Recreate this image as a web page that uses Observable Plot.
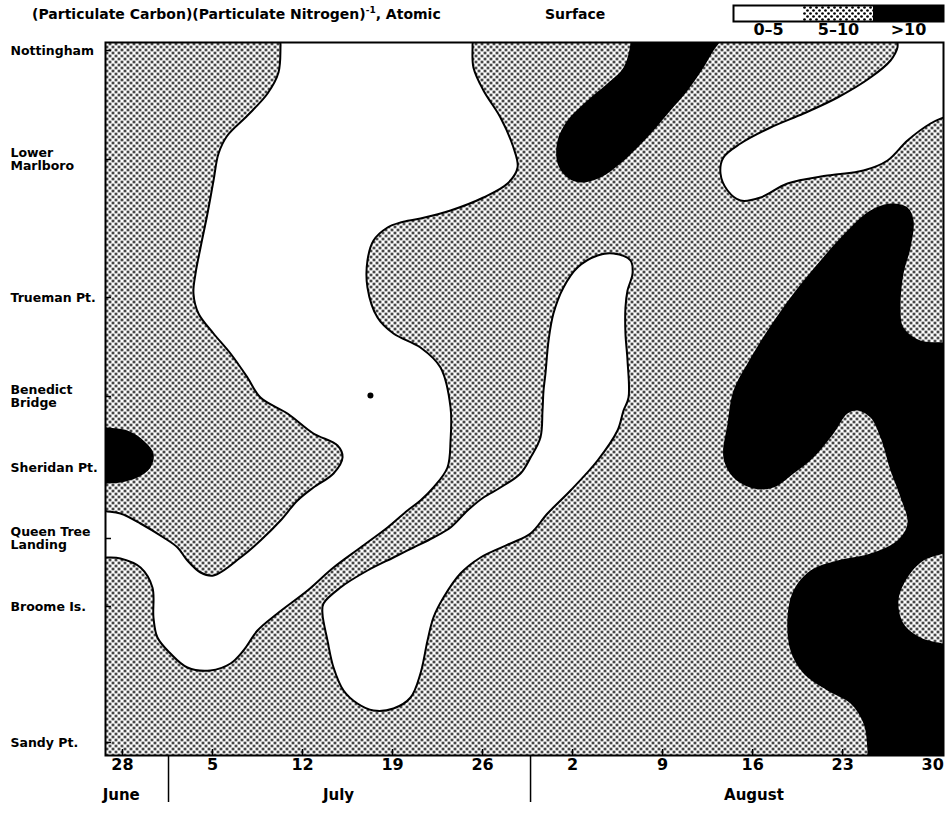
<!DOCTYPE html>
<html><head><meta charset="utf-8">
<script src="https://cdn.jsdelivr.net/npm/d3@7"></script>
<script src="https://cdn.jsdelivr.net/npm/@observablehq/plot@0.6"></script>
<style>
body{margin:0;background:#fff;}
#wrap{position:relative;width:945px;height:813px;font-family:"DejaVu Sans",sans-serif;color:#000;}
#title{position:absolute;left:32px;top:5px;font-size:14px;font-weight:700;white-space:nowrap;}
#title sup{font-size:9px;}
#surface{position:absolute;left:545px;top:6px;font-size:14px;font-weight:700;}
#legend{position:absolute;left:731px;top:0px;}
</style></head><body>
<svg width="0" height="0" style="position:absolute"><defs>
<pattern id="dots" width="6" height="6" patternUnits="userSpaceOnUse">
<rect width="6" height="6" fill="white"/>
<circle cx="1.5" cy="1.5" r="1.35" fill="black"/>
<circle cx="4.5" cy="4.5" r="1.35" fill="black"/>
</pattern></defs></svg>
<div id="wrap"><div id="chart"></div>
<div id="title">(Particulate Carbon)(Particulate Nitrogen)<sup>-1</sup>, Atomic</div>
<div id="surface">Surface</div>
<div id="legend"></div></div>
<script>
// x: days since 28 June; y: km downstream from Nottingham
const stations = ["Nottingham","Lower\nMarlboro","Trueman Pt.","Benedict\nBridge","Sheridan Pt.","Queen Tree\nLanding","Broome Is.","Sandy Pt."];
const stationKm = [0, 10.9, 24.7, 34.6, 41.7, 48.8, 55.6, 69.2];
const tickDays = [0,7,14,21,28,35,42,49,56,63];
const tickLabels = ["28","5","12","19","26","2","9","16","23","30"];
const months = ["June","July","August"];
const monthDays = [-0.1, 16.8, 49.1];
const monthBreakDays = [3.58, 31.73];
const legendLabels = ["0–5","5–10",">10"];

// 0-5 regions
const whiteA = [[12.29,-2.5],[12.29,-0.5],[12.13,2.2],[11.28,4.3],[9.72,6.5],[8.16,8.5],[7.47,10.3],[7.08,13.0],[6.61,16.3],[6.07,19.7],[5.68,22.3],[5.52,24.3],[5.91,26.3],[7.08,28.3],[8.40,30.3],[9.72,32.7],[10.73,34.7],[12.83,36.3],[14.85,38.3],[16.72,39.5],[17.11,40.7],[16.41,42.3],[14.85,43.7],[13.61,45.0],[12.29,47.0],[10.73,49.0],[9.18,50.7],[7.08,52.5],[6.07,52.2],[5.05,51.0],[4.28,49.7],[3.19,48.7],[1.40,47.3],[-0.16,46.3],[-1.17,46.1],[-2.5,46.0],[-2.5,50.7],[-1.17,50.7],[-0.16,50.8],[1.40,51.7],[2.33,53.7],[2.41,56.7],[2.72,58.7],[3.73,60.3],[5.05,61.7],[6.84,62.0],[8.40,61.3],[9.41,60.0],[10.50,58.0],[12.05,56.3],[14.39,54.0],[16.41,51.7],[18.51,49.7],[20.61,47.7],[22.16,46.0],[23.17,45.0],[24.18,43.7],[25.27,41.7],[25.51,39.0],[25.51,35.7],[24.73,31.7],[23.17,29.7],[21.07,28.3],[19.83,26.7],[19.05,23.7],[19.05,21.0],[19.52,19.0],[20.61,17.7],[21.62,17.2],[23.17,16.8],[25.51,16.0],[28.07,14.7],[29.94,13.3],[30.72,11.7],[30.40,9.7],[29.39,6.7],[28.07,4.0],[27.29,1.7],[27.22,-0.5],[27.22,-2.5]];
const whiteB = [[19.52,66.0],[18.27,65.3],[17.19,64.0],[16.41,61.7],[15.94,59.0],[15.55,56.3],[15.63,55.3],[16.95,53.7],[19.05,52.0],[21.07,50.7],[22.63,49.7],[24.18,48.7],[25.51,47.7],[26.83,46.0],[28.07,44.7],[29.39,43.7],[30.95,42.3],[31.73,40.7],[32.50,38.7],[32.66,36.0],[32.74,34.0],[32.89,32.3],[33.13,29.0],[33.51,26.3],[34.29,23.7],[35.38,21.7],[36.94,20.5],[38.18,20.3],[39.50,21.0],[39.66,22.3],[39.27,24.0],[39.11,25.7],[39.11,28.3],[39.27,31.0],[39.35,34.7],[38.96,36.0],[38.49,38.0],[36.94,41.0],[34.84,44.0],[33.05,46.3],[31.73,48.3],[30.17,49.3],[27.84,50.7],[26.28,52.3],[24.96,54.7],[24.18,56.7],[23.72,59.0],[23.17,62.3],[22.40,64.7],[21.07,65.8]];
const whiteD = [[60.26,-2.5],[60.26,-0.3],[59.72,1.0],[58.16,2.7],[55.60,4.7],[52.96,6.3],[50.39,7.7],[48.06,9.3],[46.73,10.7],[46.50,12.3],[47.05,14.0],[48.06,15.0],[49.61,14.7],[51.71,13.3],[54.82,12.5],[57.62,12.0],[59.49,11.0],[61.04,9.0],[62.83,7.3],[63.84,6.7],[64.77,6.2],[64.77,-2.5]];
// >10 regions
const blackC = [[39.50,-2.5],[39.50,-0.7],[38.96,1.7],[37.71,3.3],[36.16,5.0],[34.60,7.0],[33.83,9.0],[33.83,11.3],[34.60,12.7],[35.61,13.2],[37.17,12.7],[38.72,11.3],[40.05,9.7],[41.29,8.0],[42.61,6.0],[43.94,4.0],[45.18,1.7],[45.96,0.0],[46.50,-1.0],[46.89,-2.5]];
const blackE = [[59.72,15.3],[61.04,15.7],[61.51,17.0],[61.28,19.7],[60.73,22.3],[60.50,25.7],[60.73,27.7],[62.05,29.0],[63.84,29.2],[64.77,29.3],[64.77,72.0],[57.93,72.0],[57.93,70.0],[57.62,67.3],[56.61,65.3],[54.82,64.0],[52.96,62.3],[51.94,60.0],[51.71,56.7],[52.18,54.0],[53.50,52.0],[55.60,51.0],[58.16,50.3],[60.26,49.0],[61.04,47.3],[60.50,44.7],[59.72,42.0],[58.94,38.7],[58.16,36.7],[57.15,36.0],[56.38,36.3],[55.29,38.3],[53.73,40.7],[52.18,42.3],[50.62,43.7],[49.07,43.8],[47.51,42.7],[46.73,40.7],[47.05,37.3],[47.51,34.0],[48.60,31.3],[50.16,28.0],[52.18,24.3],[54.28,21.0],[56.38,18.0],[58.16,16.0]];
const blackG = [[-2.5,37.5],[-1.17,37.7],[0.39,38.0],[1.63,39.0],[2.41,40.3],[2.18,41.7],[1.17,42.7],[-0.16,43.2],[-1.17,43.3],[-2.5,43.4]];
// 5-10 island inside the >10 region
const dottedF = [[64.77,50.0],[63.84,50.3],[62.29,51.0],[61.04,52.7],[60.34,55.0],[60.73,57.3],[62.05,58.7],[63.84,59.3],[64.77,59.4]];
const smudge = [[19.28,34.5]];

const base = Date.UTC(1970, 5, 28);
const day = d => new Date(base + d * 864e5);
const W = 945, H = 813, mL = 105, mR = 2, mT = 42, mB = 58;
const frameW = W - mL - mR, frameH = H - mT - mB;
const FONT = "DejaVu Sans";

const poly = (pts, fill, stroke) => Plot.line(pts, {
  x: p => day(p[0]), y: p => p[1], curve: "catmull-rom-closed",
  fill, stroke: stroke || "none", strokeWidth: 2, clip: true
});

const chart = Plot.plot({
  width: W, height: H, marginLeft: mL, marginRight: mR, marginTop: mT, marginBottom: mB,
  style: {fontFamily: FONT, background: "white", color: "black"},
  x: {type: "utc", domain: [day(-1.32), day(63.84)], axis: null},
  y: {domain: [-0.8, 70.5], reverse: true, axis: null},
  marks: [
    Plot.frame({fill: "url(#dots)", stroke: "none"}),
    poly(whiteA, "white", "black"),
    poly(whiteB, "white", "black"),
    poly(whiteD, "white", "black"),
    poly(blackC, "black"),
    poly(blackE, "black"),
    poly(blackG, "black"),
    poly(dottedF, "url(#dots)"),
    Plot.dot(smudge, {x: p => day(p[0]), y: p => p[1], r: 3, fill: "black"}),
    Plot.tickY(stationKm, {y: d => d, insetRight: frameW - 6, strokeWidth: 1.5}),
    Plot.tickX(tickDays, {x: d => day(d), insetTop: frameH - 6, strokeWidth: 1.5}),
    Plot.frame({stroke: "black", strokeWidth: 2}),
    Plot.text(stations, {y: (d, i) => stationKm[i], frameAnchor: "left", dx: -95, textAnchor: "start",
      fontSize: 12.5, fontWeight: "bold", lineHeight: 1.05}),
    Plot.text(tickDays, {x: d => day(d), text: (d, i) => tickLabels[i], frameAnchor: "bottom", dy: 14,
      fontSize: 16, fontWeight: "bold"}),
    Plot.text(months, {x: (d, i) => day(monthDays[i]), frameAnchor: "bottom", dy: 44,
      fontSize: 15, fontWeight: "bold"}),
    Plot.ruleX(monthBreakDays, {x: d => day(d), insetTop: frameH, insetBottom: -47, strokeWidth: 1.5})
  ]
});
document.getElementById("chart").append(chart);

const legend = Plot.plot({
  width: 214, height: 42, marginTop: 5, marginBottom: 21, marginLeft: 2, marginRight: 2,
  style: {fontFamily: FONT, background: "transparent", color: "black"},
  x: {type: "band", domain: legendLabels, padding: 0, axis: null},
  marks: [
    Plot.cell([legendLabels[0]], {x: d => d, fill: "white"}),
    Plot.cell([legendLabels[1]], {x: d => d, fill: "url(#dots)"}),
    Plot.cell([legendLabels[2]], {x: d => d, fill: "black"}),
    Plot.frame({stroke: "black", strokeWidth: 2}),
    Plot.text(legendLabels, {x: d => d, frameAnchor: "bottom", dy: 13, fontSize: 16, fontWeight: "bold"})
  ]
});
document.getElementById("legend").append(legend);
</script>
</body></html>
